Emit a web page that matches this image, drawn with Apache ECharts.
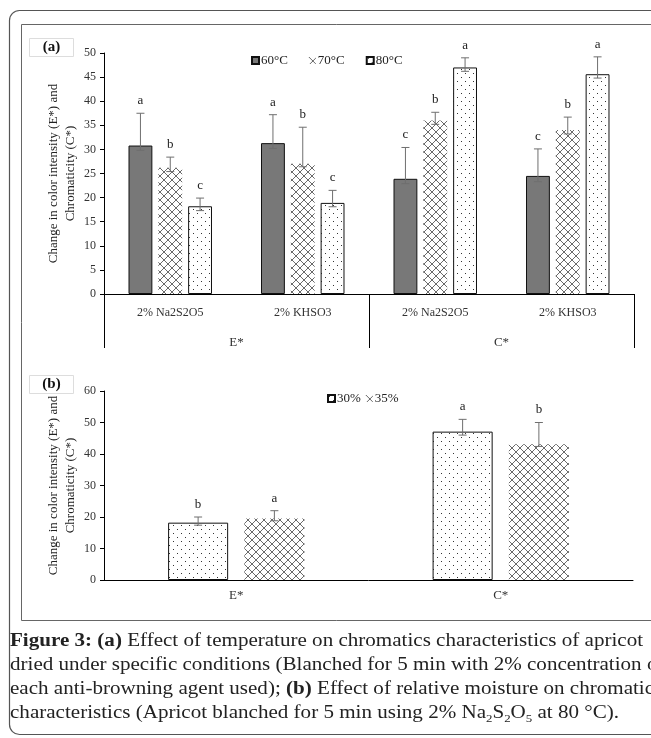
<!DOCTYPE html>
<html>
<head>
<meta charset="utf-8">
<script src="https://cdn.jsdelivr.net/npm/echarts@6/dist/echarts.min.js"></script>
<style>
html,body{margin:0;padding:0;background:#fff;}
#chart{width:651px;height:738px;}
</style>
</head>
<body>
<div id="chart"></div>
<script>
// ---------- DATA ----------
const categoriesA = ['2% Na2S2O5', '2% KHSO3', '2% Na2S2O5', '2% KHSO3'];
const groupsA = ['E*', 'C*'];
const seriesNamesA = ['60°C', '70°C', '80°C'];
const t60 = [30.8, 31.3, 23.9, 24.5];
const t60Hi = [37.5, 37.2, 30.4, 30.1];
const t60Lo = [29.8, 30.2, 22.9, 23.3];
const t60Letters = ['a', 'a', 'c', 'c'];
const t70 = [26.2, 27.0, 36.0, 34.0];
const t70Hi = [28.4, 34.6, 37.7, 36.7];
const t70Lo = [25.4, 26.4, 35.2, 33.2];
const t70Letters = ['b', 'b', 'b', 'b'];
const t80 = [18.2, 18.9, 47.0, 45.6];
const t80Hi = [19.9, 21.5, 49.0, 49.2];
const t80Lo = [17.3, 18.1, 46.2, 44.8];
const t80Letters = ['c', 'c', 'a', 'a'];

const categoriesB = ['E*', 'C*'];
const seriesNamesB = ['30%', '35%'];
const m30 = [18.2, 47.1];
const m30Hi = [20.0, 51.0];
const m30Lo = [17.4, 46.0];
const m30Letters = ['b', 'a'];
const m35 = [19.5, 43.1];
const m35Hi = [22.0, 50.0];
const m35Lo = [18.8, 42.4];
const m35Letters = ['a', 'b'];

const yTitle = 'Change in color intensity (E*) and\nChromaticity (C*)';

// ---------- PATTERNS ----------
function crossPattern() {
  const c = document.createElement('canvas');
  c.width = 8; c.height = 8;
  const g = c.getContext('2d');
  g.fillStyle = '#fff'; g.fillRect(0, 0, 8, 8);
  g.strokeStyle = '#6a6a6a'; g.lineWidth = 1;
  g.beginPath();
  g.moveTo(0, 0); g.lineTo(8, 8);
  g.moveTo(8, 0); g.lineTo(0, 8);
  g.stroke();
  return c;
}
function dotPattern() {
  const c = document.createElement('canvas');
  c.width = 8; c.height = 8;
  const g = c.getContext('2d');
  g.fillStyle = '#fff'; g.fillRect(0, 0, 8, 8);
  g.fillStyle = '#333';
  g.fillRect(1, 1, 1, 1);
  g.fillRect(5, 5, 1, 1);
  return c;
}
const crossFill = { image: crossPattern(), repeat: 'repeat' };
const dotFill = { image: dotPattern(), repeat: 'repeat' };

const serif = 'Liberation Serif';

// ---------- ERROR BAR RENDERER ----------
function errRenderer(idx, n, widthRatio, gapRatio) {
  return function (params, api) {
    const catW = api.size([1, 0])[0];
    const bw = catW * widthRatio;
    const gap = bw * gapRatio;
    const total = n * bw + (n - 1) * gap;
    const off = -total / 2 + bw / 2 + idx * (bw + gap);
    const hi = api.coord([api.value(0), api.value(2)]);
    const lo = api.coord([api.value(0), api.value(1)]);
    const x = hi[0] + off;
    const cap = 4;
    const st = { stroke: '#6f6f6f', lineWidth: 1 };
    return {
      type: 'group',
      children: [
        { type: 'line', shape: { x1: x, y1: hi[1], x2: x, y2: lo[1] }, style: st },
        { type: 'line', shape: { x1: x - cap, y1: hi[1], x2: x + cap, y2: hi[1] }, style: st },
        { type: 'line', shape: { x1: x - cap, y1: lo[1], x2: x + cap, y2: lo[1] }, style: st },
        { type: 'text', x: x, y: hi[1] - 6, style: { text: api.value(3), textAlign: 'center', textVerticalAlign: 'bottom', font: '13px ' + serif, fill: '#222' } }
      ]
    };
  };
}
function errData(lo, hi, letters) {
  return lo.map((v, i) => [i, v, hi[i], letters[i]]);
}

const chart = echarts.init(document.getElementById('chart'), null, { renderer: 'canvas' });

const axisLabelStyle = { fontFamily: serif, fontSize: 12, color: '#333' };

const option = {
  backgroundColor: '#fff',
  animation: false,
  grid: [
    { left: 104, top: 53, width: 530, height: 241 },
    { left: 104, top: 391, width: 529, height: 189 }
  ],
  legend: [
    {
      data: seriesNamesA.map(n => ({ name: n, icon: 'rect' })),
      left: 246, top: 49, itemWidth: 7, itemHeight: 7, itemGap: 21,
      textStyle: { fontFamily: serif, fontSize: 13, color: '#222', padding: [0, 0, 0, -3] }
    },
    {
      data: seriesNamesB.map(n => ({ name: n, icon: 'rect' })),
      left: 322, top: 387, itemWidth: 7, itemHeight: 7, itemGap: 5,
      textStyle: { fontFamily: serif, fontSize: 13, color: '#222', padding: [0, 0, 0, -3] }
    }
  ],
  xAxis: [
    {
      gridIndex: 0, type: 'category', data: categoriesA,
      axisLine: { lineStyle: { color: '#000', width: 1 } },
      axisTick: { show: false },
      axisLabel: Object.assign({ margin: 13, interval: 0 }, axisLabelStyle)
    },
    {
      gridIndex: 0, type: 'category', data: groupsA, position: 'bottom',
      axisLine: { show: false },
      axisTick: { show: true, length: 54, interval: 0, lineStyle: { color: '#000', width: 1 } },
      axisLabel: Object.assign({ margin: 42, interval: 0 }, axisLabelStyle, { fontSize: 13 })
    },
    {
      gridIndex: 1, type: 'category', data: categoriesB,
      axisLine: { lineStyle: { color: '#000', width: 1 } },
      axisTick: { show: false },
      axisLabel: Object.assign({ margin: 9 }, axisLabelStyle, { fontSize: 13 })
    }
  ],
  yAxis: [
    {
      gridIndex: 0, type: 'value', min: 0, max: 50, interval: 5,
      axisLine: { show: true, lineStyle: { color: '#000', width: 1 } },
      axisTick: { show: true, length: 4, lineStyle: { color: '#000' } },
      splitLine: { show: false },
      axisLabel: Object.assign({ margin: 8 }, axisLabelStyle),
      name: yTitle, nameLocation: 'middle', nameRotate: 90, nameGap: 25, nameMoveOverlap: false,
      nameTextStyle: { fontFamily: serif, fontSize: 13, color: '#222', lineHeight: 17 }
    },
    {
      gridIndex: 1, type: 'value', min: 0, max: 60, interval: 10,
      axisLine: { show: true, lineStyle: { color: '#000', width: 1 } },
      axisTick: { show: true, length: 4, lineStyle: { color: '#000' } },
      splitLine: { show: false },
      axisLabel: Object.assign({ margin: 8 }, axisLabelStyle),
      name: yTitle, nameLocation: 'middle', nameRotate: 90, nameGap: 25, nameMoveOverlap: false,
      nameTextStyle: { fontFamily: serif, fontSize: 13, color: '#222', lineHeight: 17 }
    }
  ],
  series: [
    { name: '60°C', type: 'bar', xAxisIndex: 0, yAxisIndex: 0, data: t60, barWidth: '18%', barGap: '25%',
      itemStyle: { color: '#787878', borderColor: '#111', borderWidth: 1 } },
    { name: '70°C', type: 'bar', xAxisIndex: 0, yAxisIndex: 0, data: t70, barWidth: '18%', barGap: '25%',
      itemStyle: { color: crossFill, borderWidth: 0 } },
    { name: '80°C', type: 'bar', xAxisIndex: 0, yAxisIndex: 0, data: t80, barWidth: '18%', barGap: '25%',
      itemStyle: { color: dotFill, borderColor: '#111', borderWidth: 1 } },
    { type: 'custom', xAxisIndex: 0, yAxisIndex: 0, renderItem: errRenderer(0, 3, 0.18, 0.25), data: errData(t60Lo, t60Hi, t60Letters), z: 5, silent: true },
    { type: 'custom', xAxisIndex: 0, yAxisIndex: 0, renderItem: errRenderer(1, 3, 0.18, 0.25), data: errData(t70Lo, t70Hi, t70Letters), z: 5, silent: true },
    { type: 'custom', xAxisIndex: 0, yAxisIndex: 0, renderItem: errRenderer(2, 3, 0.18, 0.25), data: errData(t80Lo, t80Hi, t80Letters), z: 5, silent: true },

    { name: '30%', type: 'bar', xAxisIndex: 2, yAxisIndex: 1, data: m30, barWidth: '22.7%', barGap: '27%',
      itemStyle: { color: dotFill, borderColor: '#111', borderWidth: 1 } },
    { name: '35%', type: 'bar', xAxisIndex: 2, yAxisIndex: 1, data: m35, barWidth: '22.7%', barGap: '27%',
      itemStyle: { color: crossFill, borderWidth: 0 } },
    { type: 'custom', xAxisIndex: 2, yAxisIndex: 1, renderItem: errRenderer(0, 2, 0.227, 0.27), data: errData(m30Lo, m30Hi, m30Letters), z: 5, silent: true },
    { type: 'custom', xAxisIndex: 2, yAxisIndex: 1, renderItem: errRenderer(1, 2, 0.227, 0.27), data: errData(m35Lo, m35Hi, m35Letters), z: 5, silent: true }
  ],
  graphic: [
    { type: 'rect', shape: { x: 9.5, y: 10.5, width: 700, height: 724, r: 10 }, style: { fill: 'none', stroke: '#555', lineWidth: 1.2 }, z: 0 },
    { type: 'rect', shape: { x: 21.5, y: 24.5, width: 700, height: 596 }, style: { fill: 'none', stroke: '#666', lineWidth: 1 }, z: 0 },
    { type: 'rect', shape: { x: 29.5, y: 38.5, width: 44, height: 18 }, style: { fill: '#fff', stroke: '#ddd', lineWidth: 1 }, z: 1 },
    { type: 'text', x: 51.5, y: 47.5, style: { text: '(a)', textAlign: 'center', textVerticalAlign: 'middle', font: 'bold 15px ' + serif, fill: '#111' }, z: 2 },
    { type: 'rect', shape: { x: 29.5, y: 375.5, width: 44, height: 18 }, style: { fill: '#fff', stroke: '#ddd', lineWidth: 1 }, z: 1 },
    { type: 'text', x: 51.5, y: 384.5, style: { text: '(b)', textAlign: 'center', textVerticalAlign: 'middle', font: 'bold 15px ' + serif, fill: '#111' }, z: 2 },
    {
      type: 'text', x: 10, y: 629, scaleX: 1.17, z: 2,
      style: {
        text: '{b|Figure 3: (a)} Effect of temperature on chromatics characteristics of apricot\n' +
              'dried under specific conditions (Blanched for 5 min with 2% concentration of\n' +
              'each anti-browning agent used); {b|(b)} Effect of relative moisture on chromatic\n' +
              'characteristics (Apricot blanched for 5 min using 2% Na{s|2}S{s|2}O{s|5} at 80 °C).',
        fontFamily: serif, fontSize: 18, lineHeight: 24, fill: '#222',
        rich: {
          b: { fontFamily: serif, fontSize: 18, fontWeight: 'bold', lineHeight: 24, fill: '#222' },
          s: { fontFamily: serif, fontSize: 11, lineHeight: 11, verticalAlign: 'bottom', fill: '#222' }
        }
      }
    }
  ]
};
chart.setOption(option);
</script>
</body>
</html>
